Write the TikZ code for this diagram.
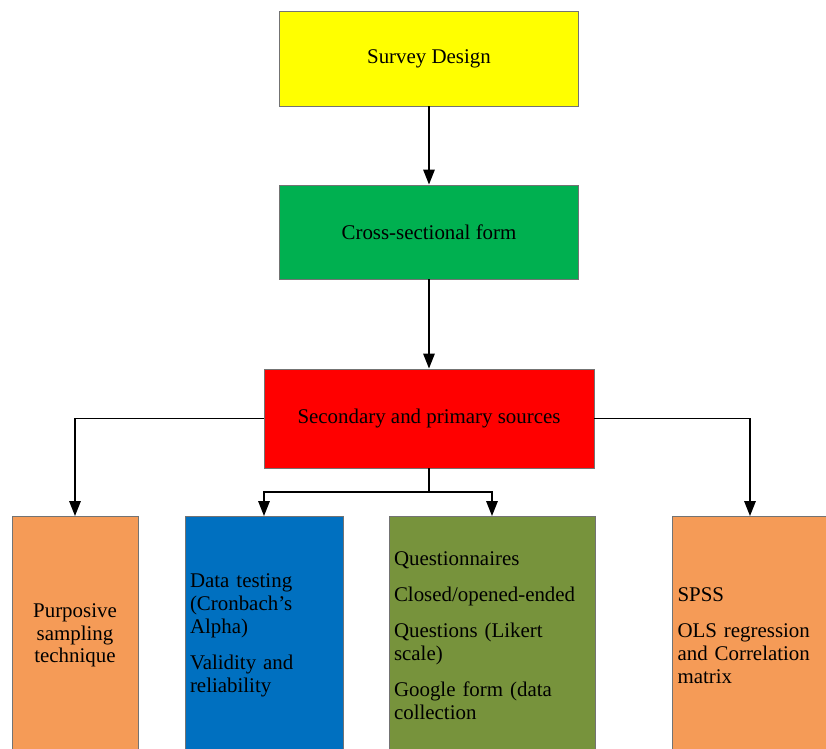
\documentclass[tikz,border=0pt]{standalone}
\usepackage{fontspec}
\setmainfont{Liberation Serif}
\usetikzlibrary{arrows.meta}
\definecolor{designyellow}{HTML}{FFFF00}
\definecolor{formgreen}{HTML}{00B050}
\definecolor{sourcered}{HTML}{FF0000}
\definecolor{toolorange}{HTML}{F59B57}
\definecolor{testblue}{HTML}{0070C0}
\definecolor{qolive}{HTML}{77933C}
\tikzset{
  box/.style={draw=black!55, line width=0.5pt, inner xsep=0.1cm, inner ysep=0pt,
    font=\fontsize{11.9}{13}\selectfont},
  arr/.style={-{Triangle[length=8.5pt,width=6.5pt]}, line width=0.9pt}
}
\begin{document}
\begin{tikzpicture}[x=0.02cm, y=-0.02cm]
      \useasboundingbox (0, 0) rectangle (826, 749);
      \clip (0, 0) rectangle (826, 749);
      \node[box, fill=designyellow, minimum width=5.98cm, minimum height=1.9cm] (design) at (429, 58.5) {Survey Design};
      \node[box, fill=formgreen, minimum width=5.98cm, minimum height=1.88cm] (cross) at (429, 232) {Cross-sectional form};
      \node[box, fill=sourcered, minimum width=6.6cm, minimum height=1.98cm] (sources) at (429, 418.5) {Secondary and primary sources};
      \node[box, fill=toolorange, text width=2.32cm, align=center, minimum height=4.76cm, anchor=north] (purposive) at (75, 516)
        {Purposive\\ sampling\\ technique};
      \node[box, fill=testblue, text width=2.96cm, align=left, minimum height=4.76cm, anchor=north] (testing) at (264, 516)
        {Data testing\\ (Cronbach’s\\ Alpha)\\[7.5pt] Validity and\\ reliability};
      \node[box, fill=qolive, text width=3.92cm, align=left, minimum height=4.76cm, anchor=north] (collect) at (492, 516)
        {Questionnaires\\[7.5pt] Closed/opened-ended\\[7.5pt] Questions (Likert\\ scale)\\[7.5pt] Google form (data\\ collection};
      \node[box, fill=toolorange, text width=2.9cm, align=left, minimum height=4.76cm, anchor=north] (spss) at (750, 516)
        {SPSS\\[7.5pt] OLS regression\\ and Correlation\\ matrix};
      \coordinate (split) at (429, 492);
      \draw[arr] (design) -- (cross);
      \draw[arr] (cross) -- (sources);
      \draw[arr] (sources.west) -| (purposive.north);
      \draw[arr] (sources.east) -| (spss.north);
      \draw[line width=0.9pt] (sources.south) -- (split);
      \draw[arr] (split) -| (testing.north);
      \draw[arr] (split) -| (collect.north);
    \end{tikzpicture}
\end{document}
